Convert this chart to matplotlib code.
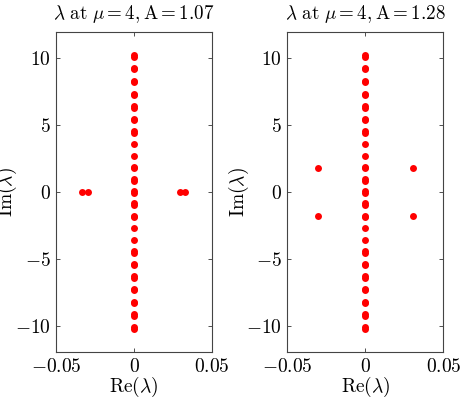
import matplotlib
matplotlib.use("Agg")
import matplotlib.pyplot as plt
from matplotlib.ticker import FuncFormatter

plt.rcParams["mathtext.fontset"] = "cm"
plt.rcParams["font.family"] = "DejaVu Serif"

titles = [r"$\lambda\ \mathrm{at}\ \mu = 4, \mathrm{A} = 1.07$",
          r"$\lambda\ \mathrm{at}\ \mu = 4, \mathrm{A} = 1.28$"]

axis_im = [10.27, 10.13, 9.3, 9.17, 8.34, 8.22, 7.37, 7.25, 6.43, 6.31,
           5.5, 5.4, 4.55, 4.45, 3.58, 2.71, 1.85, 1.77, 0.95, 0.85,
           0.04, -0.04, -0.85, -0.95, -1.77, -1.85, -2.71, -3.58,
           -4.45, -4.55, -5.4, -5.5, -6.31, -6.43, -7.25, -7.37,
           -8.22, -8.34, -9.17, -9.3, -10.13, -10.27]
axis_re = [0.0] * len(axis_im)

left_re = [-0.0336, -0.0298, 0.0292, 0.0329]
left_im = [0.0, 0.0, 0.0, 0.0]

right_re = [-0.0306, -0.0306, 0.0308, 0.0308]
right_im = [1.79, -1.79, 1.79, -1.79]

xticks = [-0.05, 0, 0.05]
yticks = [-10, -5, 0, 5, 10]


def fmt(v, pos):
    if abs(v) < 1e-12:
        return r"$0$"
    return "$" + f"{v:g}" + "$"


fig = plt.figure(figsize=(4.63, 3.97), dpi=100)
ax1 = fig.add_axes([0.121, 0.1126, 0.337, 0.8076])
ax2 = fig.add_axes([0.6205, 0.1126, 0.337, 0.8076])

for ax, title, re_off, im_off in [(ax1, titles[0], left_re, left_im),
                                  (ax2, titles[1], right_re, right_im)]:
    ax.plot(axis_re, axis_im, "o", color="red", markersize=5,
            markeredgewidth=0)
    ax.plot(re_off, im_off, "o", color="red", markersize=5,
            markeredgewidth=0)
    ax.set_xlim(-0.05, 0.05)
    ax.set_ylim(-12, 12)
    ax.set_xticks(xticks)
    ax.set_yticks(yticks)
    ax.xaxis.set_major_formatter(FuncFormatter(fmt))
    ax.yaxis.set_major_formatter(FuncFormatter(fmt))
    ax.tick_params(direction="in", top=True, right=True, labelsize=14,
                   length=3, width=0.6, colors="#333333", labelcolor="black",
                   pad=4)
    for sp in ax.spines.values():
        sp.set_linewidth(0.8)
        sp.set_color("#444444")
    ax.set_title(title, fontsize=13.7, pad=9)
    ax.set_xlabel(r"$\mathrm{Re}(\lambda)$", fontsize=14)
    ax.set_ylabel(r"$\mathrm{Im}(\lambda)$", fontsize=14)
    ax.xaxis.set_label_coords(0.5, -0.07)
    ax.yaxis.set_label_coords(-0.235, 0.5)

fig.savefig("out.png", dpi=100)
